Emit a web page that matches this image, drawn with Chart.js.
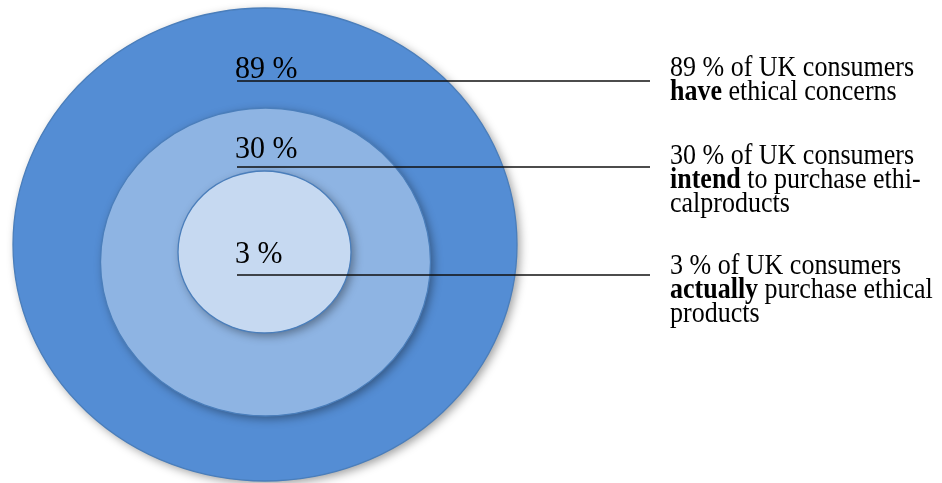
<!DOCTYPE html>
<html>
<head>
<meta charset="utf-8">
<script src="https://cdn.jsdelivr.net/npm/chart.js@4/dist/chart.umd.min.js"></script>
<style>
  html, body { margin: 0; padding: 0; background: #fff; }
  #box { width: 942px; height: 483px; position: relative; }
</style>
</head>
<body>
<div id="box"><canvas id="myChart"></canvas></div>
<script>
// dados do grafico
const shares = [89, 30, 3];                       // % dos consumidores
const verbs = ['have', 'intend', 'actually'];     // palavra em negrito
const verbTails = [' ethical concerns', ' to purchase ethi-', ' purchase ethical'];
const extraLines = ['', 'calproducts', 'products'];

// posicoes (unidades da escala, 1 unidade = 1px)
const rings = [
  { cx: 265, cy: 244.5, rx: 252, ry: 236.5, fill: '#548dd4' },
  { cx: 265.5, cy: 262, rx: 165, ry: 154, fill: '#8eb4e3' },
  { cx: 264.5, cy: 252, rx: 86.5, ry: 81, fill: '#c6d9f1' }
];
const labelX = 235;
const labelY = [78, 158, 263];
const leaderY = [81, 167, 275];
const leaderX0 = 237, leaderX1 = 650;
const noteX = 670;
const noteY = [76, 164, 274];
const noteStep = 24;

const serif = '"Liberation Serif", "Times New Roman", serif';

// linhas de ligacao
const datasets = leaderY.map(function (y) {
  return {
    type: 'line',
    data: [{ x: leaderX0, y: y }, { x: leaderX1, y: y }],
    borderColor: '#111',
    borderWidth: 1.4,
    pointRadius: 0,
    fill: false
  };
});

// texto um pouco mais alto que a fonte normal
function texto(ctx, t, x, y, esc) {
  ctx.save();
  ctx.translate(x, y);
  ctx.scale(1, esc);
  ctx.fillText(t, 0, 0);
  ctx.restore();
}

// desenha as elipses e os textos
const rings_plugin = {
  id: 'rings',
  beforeDatasetsDraw(chart) {
    const ctx = chart.ctx, sx = chart.scales.x, sy = chart.scales.y;
    rings.forEach(function (r) {
      const cx = sx.getPixelForValue(r.cx), cy = sy.getPixelForValue(r.cy);
      const rx = Math.abs(sx.getPixelForValue(r.cx + r.rx) - cx);
      const ry = Math.abs(sy.getPixelForValue(r.cy + r.ry) - cy);
      ctx.save();
      ctx.shadowColor = 'rgba(0,0,0,0.38)';
      ctx.shadowBlur = 10;
      ctx.shadowOffsetX = 3;
      ctx.shadowOffsetY = 3;
      ctx.beginPath();
      ctx.ellipse(cx, cy, rx, ry, 0, 0, Math.PI * 2);
      ctx.fillStyle = r.fill;
      ctx.fill();
      ctx.restore();
      ctx.save();
      ctx.beginPath();
      ctx.ellipse(cx, cy, rx, ry, 0, 0, Math.PI * 2);
      ctx.strokeStyle = '#4a7ebb';
      ctx.lineWidth = 1.3;
      ctx.stroke();
      ctx.restore();
    });
    // rotulos dentro das elipses
    ctx.save();
    ctx.fillStyle = '#000';
    ctx.textBaseline = 'alphabetic';
    ctx.font = '30px ' + serif;
    shares.forEach(function (s, i) {
      texto(ctx, s + ' %', sx.getPixelForValue(labelX), sy.getPixelForValue(labelY[i]), 1.05);
    });
    ctx.restore();
  },
  afterDatasetsDraw(chart) {
    const ctx = chart.ctx, sx = chart.scales.x, sy = chart.scales.y;
    const esc = 1.13;
    ctx.save();
    ctx.fillStyle = '#000';
    ctx.textBaseline = 'alphabetic';
    shares.forEach(function (s, i) {
      const x = sx.getPixelForValue(noteX);
      let y = noteY[i];
      ctx.font = '26px ' + serif;
      texto(ctx, s + ' % of UK consumers', x, sy.getPixelForValue(y), esc);
      y += noteStep;
      ctx.font = 'bold 26px ' + serif;
      texto(ctx, verbs[i], x, sy.getPixelForValue(y), esc);
      const w = ctx.measureText(verbs[i]).width;
      ctx.font = '26px ' + serif;
      texto(ctx, verbTails[i], x + w, sy.getPixelForValue(y), esc);
      if (extraLines[i] != '') {
        y += noteStep;
        texto(ctx, extraLines[i], x, sy.getPixelForValue(y), esc);
      }
    });
    ctx.restore();
  }
};

const config = {
  type: 'scatter',
  data: { datasets: datasets },
  options: {
    responsive: true,
    maintainAspectRatio: false,
    animation: false,
    layout: { padding: 0 },
    plugins: { legend: { display: false }, tooltip: { enabled: false } },
    scales: {
      x: { type: 'linear', display: false, min: 0, max: 942 },
      y: { type: 'linear', display: false, min: 0, max: 483, reverse: true }
    }
  },
  plugins: [rings_plugin]
};

const myChart = new Chart(document.getElementById('myChart'), config);
</script>
</body>
</html>
